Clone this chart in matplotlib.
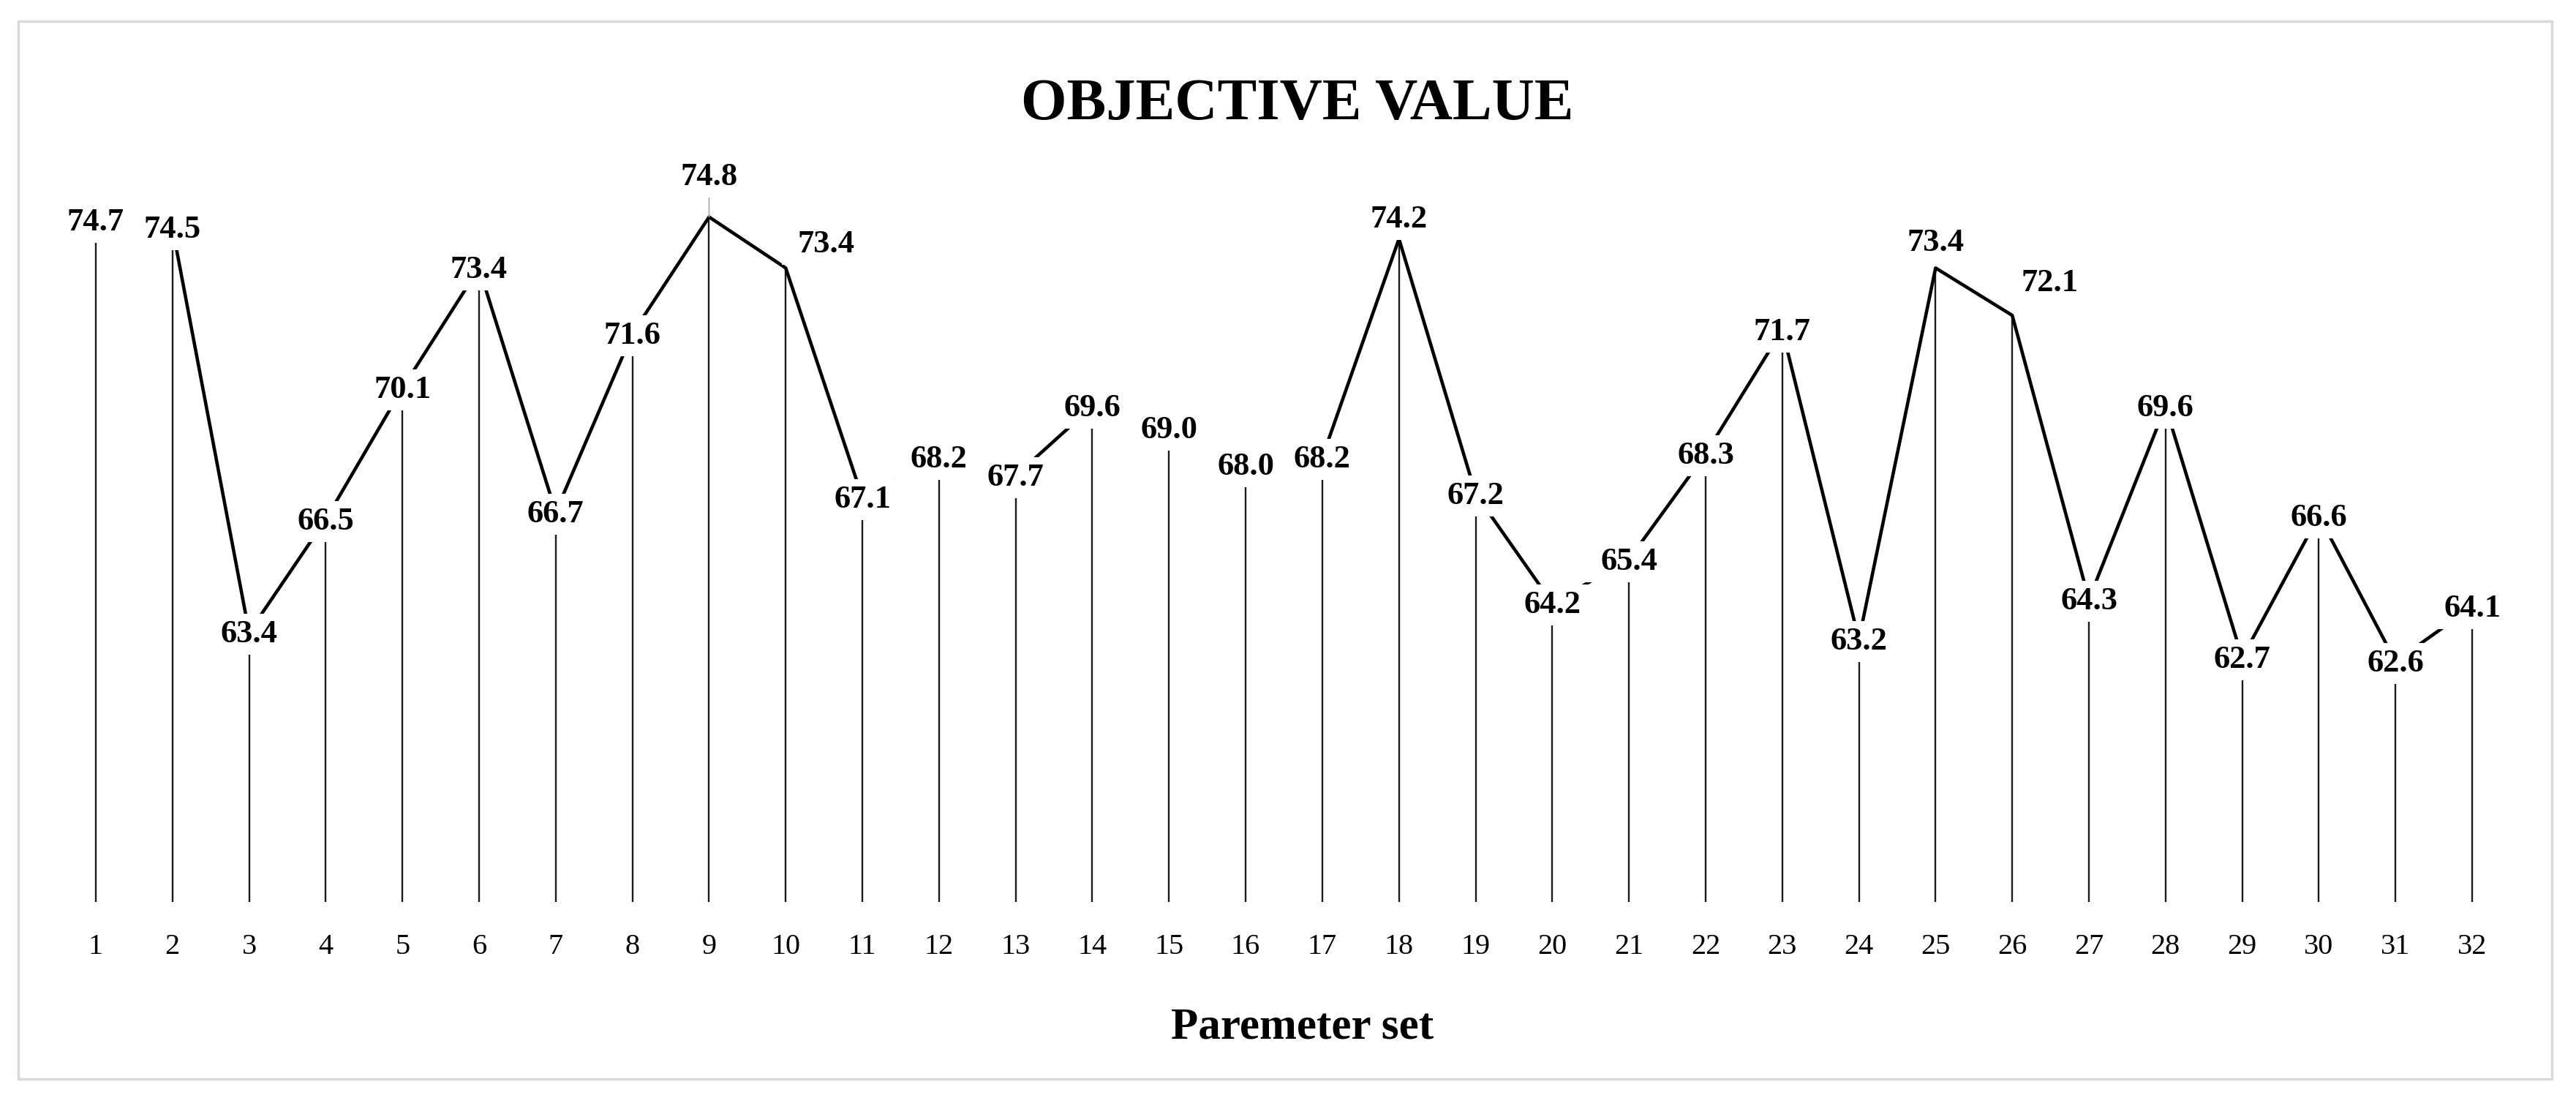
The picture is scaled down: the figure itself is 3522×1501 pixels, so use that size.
import matplotlib
matplotlib.use('Agg')
import matplotlib.pyplot as plt
from matplotlib.patches import Rectangle
from matplotlib.path import Path

plt.rcParams['font.family'] = ['Liberation Serif', 'DejaVu Serif']

# data
param_set = list(range(1, 33))
objective = [74.7, 74.5, 63.4, 66.5, 70.1, 73.4, 66.7, 71.6, 74.8, 73.4,
             67.1, 68.2, 67.7, 69.6, 69.0, 68.0, 68.2, 74.2, 67.2, 64.2,
             65.4, 68.3, 71.7, 63.2, 73.4, 72.1, 64.3, 69.6, 62.7, 66.6,
             62.6, 64.1]

# labels that were dragged away from their point (offset in points)
label_shift = {9: (0, 39), 10: (40, 23), 18: (0, 19), 25: (0, 25), 26: (37, 32)}
Y_MIN, Y_MAX = 56, 76


def label_box(x0, y0, width, height, mutation_size):
    # white box, wider than tall like the excel data labels
    padx = 0.5 * mutation_size
    pady = 0.18 * mutation_size
    x0, y0 = x0 - padx, y0 - pady
    x1, y1 = x0 + width + 2 * padx, y0 + height + 2 * pady
    return Path([(x0, y0), (x1, y0), (x1, y1), (x0, y1), (x0, y0)], closed=True)


def draw_chart():
    fig = plt.figure(figsize=(35.23, 15.01), dpi=100, facecolor='white')

    # light grey chart border
    fig.patches.append(Rectangle((25 / 3523, 1 - 1475 / 1501), 3464 / 3523, 1446 / 1501,
                                 transform=fig.transFigure, fill=False,
                                 edgecolor='#d9d9d9', linewidth=2.5))

    ax = fig.add_axes([0.0223, 0.1786, 0.952, 0.6636])
    ax.vlines(param_set, Y_MIN, objective, colors='#1a1a1a', linewidth=1.7, zorder=1)
    ax.plot(param_set, objective, color='black', linewidth=3.3, zorder=2)

    for x, v in zip(param_set, objective):
        dx, dy = label_shift.get(x, (0, -2))
        arrow = None
        if x == 9:
            arrow = dict(arrowstyle='-', color='#a6a6a6', lw=1.2, shrinkA=0, shrinkB=0)
        ax.annotate('%.1f' % v, (x, v), xytext=(dx, dy), textcoords='offset points',
                    ha='center', va='center', fontsize=32, fontweight='bold',
                    bbox=dict(boxstyle=label_box, fc='white', ec='none'),
                    arrowprops=arrow, zorder=3)

    ax.set_xlim(0.5, 32.5)
    ax.set_ylim(Y_MIN, Y_MAX)
    ax.set_xticks(param_set)
    ax.set_xticklabels([str(p) for p in param_set])
    ax.set_yticks([])
    ax.tick_params(axis='x', length=0, pad=31, labelsize=29)
    for s in ax.spines.values():
        s.set_visible(False)

    fig.text(0.5036, 0.8914, 'OBJECTIVE VALUE', ha='center', va='baseline',
             fontsize=58, fontweight='bold')
    fig.text(0.5053, 0.054, 'Paremeter set', ha='center', va='baseline',
             fontsize=44, fontweight='bold')

    fig.savefig('out.png', dpi=100, facecolor='white')


if __name__ == '__main__':
    draw_chart()
